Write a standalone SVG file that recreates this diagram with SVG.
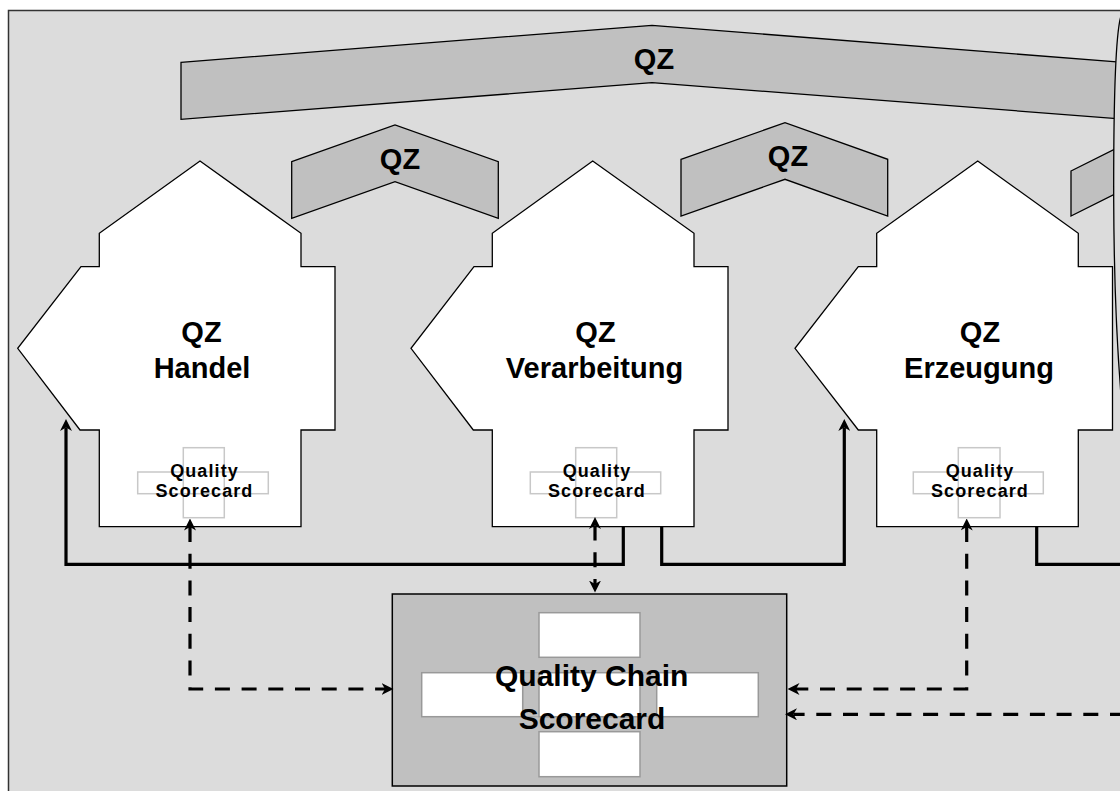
<svg xmlns="http://www.w3.org/2000/svg" width="1120" height="791" viewBox="0 0 1120 791">
<style>
.t{font-family:"Liberation Sans",Arial,sans-serif;font-weight:bold;fill:#000;text-anchor:middle}
.big{font-size:29px}
.qz{font-size:29px}
.sc{font-size:18px;letter-spacing:1.1px}
.qc{font-size:30px}
.house{fill:#fff;stroke:#000;stroke-width:1.3}
.band{fill:#c0c0c0;stroke:#000;stroke-width:1.3}
.cross{fill:none;stroke:#c8c8c8;stroke-width:1.5}
.inner{fill:#fff;stroke:#999;stroke-width:1.5}
.solid{fill:none;stroke:#000;stroke-width:3.2}
.dash{fill:none;stroke:#000;stroke-width:3.2;stroke-dasharray:15 11.7}
</style>
<defs>
<marker id="ah" viewBox="0 0 12 12" refX="3.5" refY="6" markerWidth="12" markerHeight="12" markerUnits="userSpaceOnUse" orient="auto-start-reverse">
<path d="M0,0 L12,6 L0,12 L3.5,6 z" fill="#000"/>
</marker>
</defs>
<rect id="frame" x="8.5" y="10.5" width="1130" height="800" fill="#dcdcdc" stroke="#333" stroke-width="1.5"/>

<g id="qz-top">
<polygon class="band" points="181,62.3 652,25.3 1120,62.2 1120,118.8 652,82.7 181,119.3"/>
<text class="t qz" x="654" y="68.5">QZ</text>
</g>
<g id="qz-1">
<polygon class="band" points="291.7,161.7 395,125 498.3,161.7 498.3,218.3 395,181.7 291.7,218.3"/>
<text class="t qz" x="400" y="168.5">QZ</text>
</g>
<g id="qz-2">
<polygon class="band" points="681,159.3 785,122.7 887.7,159.3 887.7,216 785,179.3 681,216"/>
<text class="t qz" x="788" y="165.5">QZ</text>
</g>
<g id="qz-3">
<polygon class="band" points="1071,171 1130,141.5 1130,186.5 1071,216"/>
</g>
<g id="edge-node">
<path d="M1125,15 L1121,16 C1115,35 1113.5,110 1113.7,200 C1114,285 1116.5,340 1121,395 L1125,395 z" fill="#dcdcdc" stroke="none"/>
<path d="M1121,16 C1115,35 1113.5,110 1113.7,200 C1114,285 1116.5,340 1121,395" fill="none" stroke="#000" stroke-width="1.3"/>
</g>

<g id="house-handel">
<polygon class="house" points="200,161 301,233.3 301,266.7 335,266.7 335,430 301,430 301,526.7 99.3,526.7 99.3,430 80,430 17.7,348.3 81,266.7 99.3,266.7 99.3,233.3"/>
<text class="t big" x="201.5" y="341.7">QZ</text>
<text class="t big" x="202" y="377.7">Handel</text>
<rect class="cross" x="137.7" y="472" width="130.6" height="21.7"/>
<rect class="cross" x="183.3" y="447.7" width="41" height="70"/>
<text class="t sc" x="204.5" y="477.3">Quality</text>
<text class="t sc" x="204.5" y="496.7">Scorecard</text>
</g>

<g id="house-verarbeitung">
<polygon class="house" points="592.7,161 694,233.3 694,266.7 728,266.7 728,430 694,430 694,526.7 492.3,526.7 492.3,430 473.3,430 411,348.3 474,266.7 492.3,266.7 492.3,233.3"/>
<text class="t big" x="595.5" y="341.7">QZ</text>
<text class="t big" x="594.5" y="377.7">Verarbeitung</text>
<rect class="cross" x="530.3" y="472" width="130.4" height="21.7"/>
<rect class="cross" x="575.7" y="447.7" width="41" height="70"/>
<text class="t sc" x="597" y="477.3">Quality</text>
<text class="t sc" x="597" y="496.7">Scorecard</text>
</g>

<g id="house-erzeugung">
<polygon class="house" points="977.7,161 1078.3,233.3 1078.3,266.7 1112.5,266.7 1112.5,430 1078.3,430 1078.3,526.7 876.7,526.7 876.7,430 858.3,430 795,348.3 858.3,266.7 876.7,266.7 876.7,233.3"/>
<text class="t big" x="980" y="341.7">QZ</text>
<text class="t big" x="979" y="377.7">Erzeugung</text>
<rect class="cross" x="913.3" y="472" width="130" height="21.7"/>
<rect class="cross" x="958.3" y="447.7" width="41.7" height="70"/>
<text class="t sc" x="980" y="477.3">Quality</text>
<text class="t sc" x="980" y="496.7">Scorecard</text>
</g>

<g id="quality-chain-scorecard">
<rect x="392.3" y="594" width="394.4" height="192" fill="#c0c0c0" stroke="#000" stroke-width="1.5"/>
<rect x="522.7" y="672.7" width="134" height="44" fill="none" stroke="#aaa" stroke-width="1.2"/>
<rect class="inner" x="539" y="612.7" width="101" height="44.6"/>
<rect class="inner" x="421.7" y="672.7" width="101" height="44"/>
<rect class="inner" x="539" y="672.7" width="101" height="44"/>
<rect class="inner" x="656.7" y="672.7" width="101.6" height="44"/>
<rect class="inner" x="539" y="731.7" width="101" height="45"/>
<text class="t qc" x="591.7" y="686">Quality Chain</text>
<text class="t qc" x="592" y="729.3">Scorecard</text>
</g>

<g id="connectors">
<path class="solid" d="M623.3,527 L623.3,564.3 L66,564.3 L66,427.5" marker-end="url(#ah)"/>
<path class="solid" d="M661.7,527 L661.7,564.3 L844.3,564.3 L844.3,427.5" marker-end="url(#ah)"/>
<path class="solid" d="M1036.7,527 L1036.7,564.3 L1125,564.3"/>
<path class="dash" d="M190,527 L190,689 L385,689" marker-start="url(#ah)" marker-end="url(#ah)"/>
<path class="dash" d="M595,525.5 L595,584" marker-start="url(#ah)" marker-end="url(#ah)"/>
<path class="dash" d="M966.7,527 L966.7,689 L796,689" marker-start="url(#ah)" marker-end="url(#ah)"/>
<path class="dash" d="M1125,714.3 L793.5,714.3" marker-end="url(#ah)"/>
</g>
</svg>
